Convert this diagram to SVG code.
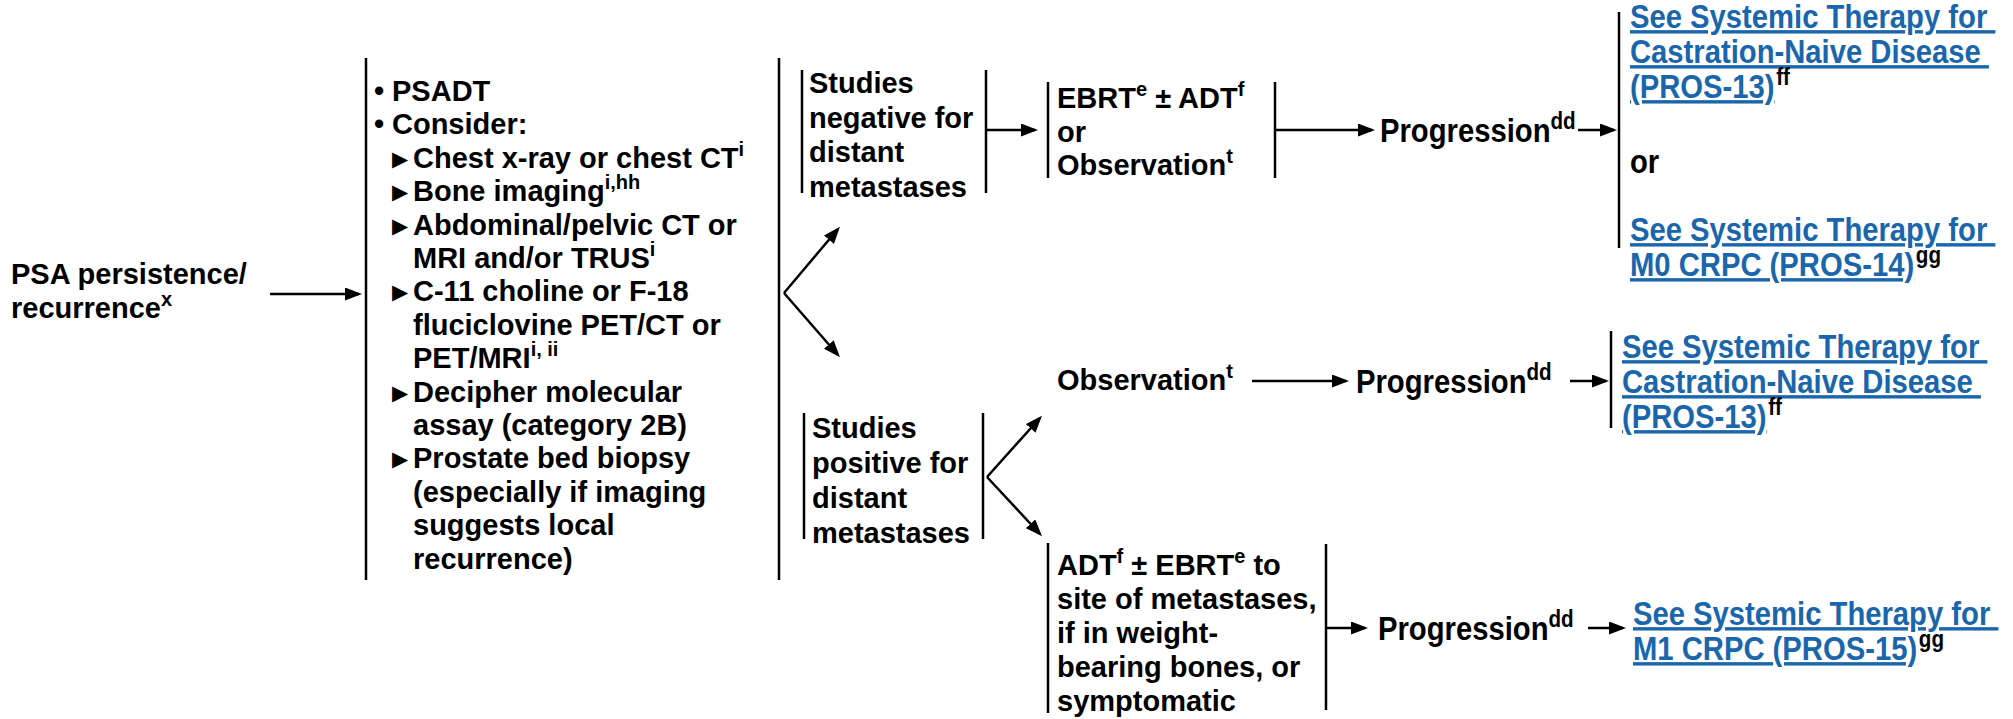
<svg xmlns="http://www.w3.org/2000/svg" width="2013" height="719" viewBox="0 0 2013 719">
<defs>
<style>
.t{font-family:"Liberation Sans",Arial,sans-serif;font-weight:700;font-size:29px;fill:#000}
.s{font-size:20px}
.c{font-family:"Liberation Sans",Arial,sans-serif;font-weight:700;font-size:34px;fill:#000}
.cs{font-size:24px}
.lk{fill:#1A66AC;text-decoration:underline}
.tri{font-family:"DejaVu Sans",sans-serif;font-size:21px;font-weight:400}
.bar{stroke:#000;stroke-width:2.5;fill:none}
.ar{stroke:#000;stroke-width:2.5;fill:none;marker-end:url(#ah)}
</style>
<marker id="ah" markerUnits="userSpaceOnUse" markerWidth="17" markerHeight="13" refX="14" refY="6.5" orient="auto"><path d="M0,0 L17,6.5 L0,13 z" fill="#000"/></marker>
</defs>
<rect width="2013" height="719" fill="#fff"/>

<g id="n-psa">
<text class="t" x="11" y="284">PSA persistence/</text>
<text class="t" x="11" y="318">recurrence<tspan class="s" dy="-12">x</tspan></text>
</g>

<g id="n-workup">
<line class="bar" x1="366" y1="58" x2="366" y2="580"/>
<line class="bar" x1="779" y1="58" x2="779" y2="580"/>
<text class="t" x="374" y="101">•<tspan x="392">PSADT</tspan></text>
<text class="t" x="374" y="134">•<tspan x="392">Consider:</tspan></text>
<text class="t" x="392" y="168"><tspan class="tri" dy="-2">▶</tspan><tspan x="413" dy="2">Chest x-ray or chest CT</tspan><tspan class="s" dy="-12">i</tspan></text>
<text class="t" x="392" y="201"><tspan class="tri" dy="-2">▶</tspan><tspan x="413" dy="2">Bone imaging</tspan><tspan class="s" dy="-12">i,hh</tspan></text>
<text class="t" x="392" y="235"><tspan class="tri" dy="-2">▶</tspan><tspan x="413" dy="2">Abdominal/pelvic CT or</tspan></text>
<text class="t" x="413" y="268">MRI and/or TRUS<tspan class="s" dy="-12">i</tspan></text>
<text class="t" x="392" y="301"><tspan class="tri" dy="-2">▶</tspan><tspan x="413" dy="2">C-11 choline or F-18</tspan></text>
<text class="t" x="413" y="335">fluciclovine PET/CT or</text>
<text class="t" x="413" y="368">PET/MRI<tspan class="s" dy="-12">i, ii</tspan></text>
<text class="t" x="392" y="402"><tspan class="tri" dy="-2">▶</tspan><tspan x="413" dy="2">Decipher molecular</tspan></text>
<text class="t" x="413" y="435">assay (category 2B)</text>
<text class="t" x="392" y="468"><tspan class="tri" dy="-2">▶</tspan><tspan x="413" dy="2">Prostate bed biopsy</tspan></text>
<text class="t" x="413" y="502">(especially if imaging</text>
<text class="t" x="413" y="535">suggests local</text>
<text class="t" x="413" y="569">recurrence)</text>
</g>

<g id="n-neg">
<line class="bar" x1="802" y1="70" x2="802" y2="193"/>
<line class="bar" x1="986" y1="70" x2="986" y2="193"/>
<text class="t" x="809" y="93">Studies</text>
<text class="t" x="809" y="128">negative for</text>
<text class="t" x="809" y="162">distant</text>
<text class="t" x="809" y="197">metastases</text>
</g>

<g id="n-ebrt">
<line class="bar" x1="1048" y1="82" x2="1048" y2="178"/>
<line class="bar" x1="1275" y1="82" x2="1275" y2="178"/>
<text class="t" x="1057" y="108">EBRT<tspan class="s" dy="-12">e</tspan><tspan dy="12"> ± ADT</tspan><tspan class="s" dy="-12">f</tspan></text>
<text class="t" x="1057" y="142">or</text>
<text class="t" x="1057" y="175">Observation<tspan class="s" dy="-12">t</tspan></text>
</g>

<g id="n-prog1">
<text class="c" transform="translate(1380,142) scale(0.86,1)">Progression<tspan class="cs" dy="-13">dd</tspan></text>
</g>

<g id="n-link1">
<line class="bar" x1="1619" y1="12" x2="1619" y2="248"/>
<text class="c lk" transform="translate(1630,28) scale(0.86,1)" xml:space="preserve">See Systemic Therapy for </text>
<text class="c lk" transform="translate(1630,63) scale(0.86,1)" xml:space="preserve">Castration-Naive Disease </text>
<text class="c" transform="translate(1630,98) scale(0.86,1)"><tspan class="lk">(PROS-13)</tspan><tspan class="cs" dx="2" dy="-13">ff</tspan></text>
<text class="c" transform="translate(1630,173) scale(0.86,1)">or</text>
<text class="c lk" transform="translate(1630,241) scale(0.86,1)" xml:space="preserve">See Systemic Therapy for </text>
<text class="c" transform="translate(1630,276) scale(0.86,1)"><tspan class="lk">M0 CRPC (PROS-14)</tspan><tspan class="cs" dx="2" dy="-13">gg</tspan></text>
</g>

<g id="n-pos">
<line class="bar" x1="804" y1="413" x2="804" y2="539"/>
<line class="bar" x1="983" y1="413" x2="983" y2="539"/>
<text class="t" x="812" y="438">Studies</text>
<text class="t" x="812" y="473">positive for</text>
<text class="t" x="812" y="508">distant</text>
<text class="t" x="812" y="543">metastases</text>
</g>

<g id="n-obs">
<text class="t" x="1057" y="390">Observation<tspan class="s" dy="-12">t</tspan></text>
</g>

<g id="n-prog2">
<text class="c" transform="translate(1356,393) scale(0.86,1)">Progression<tspan class="cs" dy="-13">dd</tspan></text>
</g>

<g id="n-link2">
<line class="bar" x1="1611" y1="331" x2="1611" y2="428"/>
<text class="c lk" transform="translate(1622,358) scale(0.86,1)" xml:space="preserve">See Systemic Therapy for </text>
<text class="c lk" transform="translate(1622,393) scale(0.86,1)" xml:space="preserve">Castration-Naive Disease </text>
<text class="c" transform="translate(1622,428) scale(0.86,1)"><tspan class="lk">(PROS-13)</tspan><tspan class="cs" dx="2" dy="-13">ff</tspan></text>
</g>

<g id="n-adt">
<line class="bar" x1="1048" y1="543" x2="1048" y2="713"/>
<line class="bar" x1="1326" y1="544" x2="1326" y2="710"/>
<text class="t" x="1057" y="575">ADT<tspan class="s" dy="-12">f</tspan><tspan dy="12"> ± EBRT</tspan><tspan class="s" dy="-12">e</tspan><tspan dy="12"> to</tspan></text>
<text class="t" x="1057" y="609">site of metastases,</text>
<text class="t" x="1057" y="643">if in weight-</text>
<text class="t" x="1057" y="677">bearing bones, or</text>
<text class="t" x="1057" y="711">symptomatic</text>
</g>

<g id="n-prog3">
<text class="c" transform="translate(1378,640) scale(0.86,1)">Progression<tspan class="cs" dy="-13">dd</tspan></text>
</g>

<g id="n-link3">
<text class="c lk" transform="translate(1633,625) scale(0.86,1)" xml:space="preserve">See Systemic Therapy for </text>
<text class="c" transform="translate(1633,660) scale(0.86,1)"><tspan class="lk">M1 CRPC (PROS-15)</tspan><tspan class="cs" dx="2" dy="-13">gg</tspan></text>
</g>

<g id="connectors">
<line class="ar" x1="270" y1="294" x2="359" y2="294"/>
<line class="ar" x1="784" y1="293" x2="838" y2="229"/>
<line class="ar" x1="784" y1="293" x2="838" y2="355"/>
<line class="ar" x1="986" y1="130" x2="1035" y2="130"/>
<line class="ar" x1="1275" y1="130" x2="1372" y2="130"/>
<line class="ar" x1="1578" y1="130" x2="1614" y2="130"/>
<line class="ar" x1="987" y1="477" x2="1040" y2="418"/>
<line class="ar" x1="987" y1="477" x2="1040" y2="534"/>
<line class="ar" x1="1252" y1="381" x2="1346" y2="381"/>
<line class="ar" x1="1570" y1="381" x2="1606" y2="381"/>
<line class="ar" x1="1326" y1="628" x2="1365" y2="628"/>
<line class="ar" x1="1588" y1="628" x2="1623" y2="628"/>
</g>
</svg>
